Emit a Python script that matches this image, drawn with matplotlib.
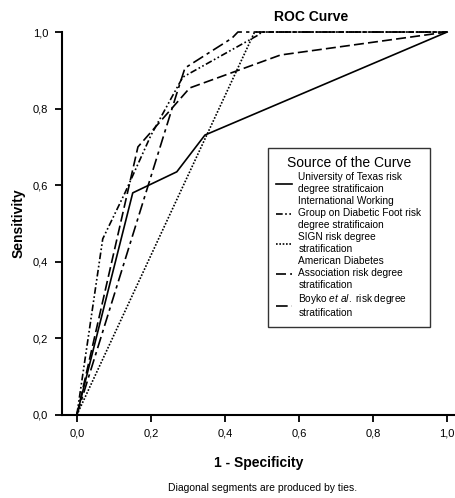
import matplotlib
matplotlib.use('Agg')
import matplotlib.pyplot as plt

plt.rcParams['font.family'] = ['Liberation Sans', 'DejaVu Sans']
plt.rcParams['mathtext.fontset'] = 'custom'
plt.rcParams['mathtext.it'] = 'Liberation Sans:italic'
plt.rcParams['mathtext.rm'] = 'Liberation Sans'

# ROC points (1 - specificity, sensitivity)
texas_x = [0.0, 0.151, 0.27, 0.346, 1.0]
texas_y = [0.0, 0.58, 0.635, 0.731, 1.0]

iwgdf_x = [0.0, 0.07, 0.13, 0.20, 0.286, 0.486, 0.50, 1.0]
iwgdf_y = [0.0, 0.46, 0.58, 0.73, 0.882, 0.99, 1.0, 1.0]

sign_x = [0.0, 0.48, 1.0]
sign_y = [0.0, 1.0, 1.0]

ada_x = [0.0, 0.165, 0.305, 0.55, 1.0]
ada_y = [0.0, 0.70, 0.854, 0.94, 1.0]

boyko_x = [0.0, 0.27, 0.292, 0.419, 0.435, 1.0]
boyko_y = [0.0, 0.84, 0.906, 0.984, 1.0, 1.0]

labels = ['University of Texas risk\ndegree stratificaion',
          'International Working\nGroup on Diabetic Foot risk\ndegree stratificaion',
          'SIGN risk degree\nstratification',
          'American Diabetes\nAssociation risk degree\nstratification',
          r'Boyko $\it{et\ al.}$ risk degree' + '\nstratification']

ticks = [0.0, 0.2, 0.4, 0.6, 0.8, 1.0]
tick_labels = ['0,0', '0,2', '0,4', '0,6', '0,8', '1,0']

fig = plt.figure(figsize=(4.56, 4.98), dpi=100)
ax = fig.add_axes([0.136, 0.1667, 0.864, 0.769])

lw = 1.2
ax.plot(texas_x, texas_y, color='black', lw=lw, ls='-', label=labels[0], clip_on=False)
ax.plot(iwgdf_x, iwgdf_y, color='black', lw=lw, ls=(0, (4, 1.5, 1, 1.5, 1, 1.5)), label=labels[1], clip_on=False)
ax.plot(sign_x, sign_y, color='black', lw=lw, ls=(0, (1, 1)), label=labels[2], clip_on=False)
ax.plot(ada_x, ada_y, color='black', lw=lw, ls=(0, (6, 2.5)), label=labels[3], clip_on=False)
ax.plot(boyko_x, boyko_y, color='black', lw=lw, ls=(0, (7, 2.5, 2, 2.5)), label=labels[4], clip_on=False)

ax.set_xlim(-0.04, 1.024)
ax.set_ylim(0, 1.0)
ax.set_xticks(ticks)
ax.set_xticklabels(tick_labels)
ax.set_yticks(ticks)
ax.set_yticklabels(tick_labels)
ax.tick_params(direction='out', length=5, width=1.3, labelsize=8, pad=5)

for s in ['top', 'right']:
    ax.spines[s].set_visible(False)
for s in ['left', 'bottom']:
    ax.spines[s].set_linewidth(1.5)

ax.set_xlabel('1 - Specificity', fontsize=10, fontweight='bold', labelpad=12)
ax.set_ylabel('Sensitivity', fontsize=10, fontweight='bold', labelpad=5)

fig.text(0.682, 0.965, 'ROC Curve', fontsize=10, fontweight='bold', ha='center', va='center')
fig.text(0.575, 0.02, 'Diagonal segments are produced by ties.', fontsize=7.5, ha='center', va='center')

leg = ax.legend(loc='upper left', bbox_to_anchor=(0.51, 0.71), title='Source of the Curve',
                fontsize=7.3, title_fontsize=10, frameon=True, fancybox=False,
                handlelength=1.6, handletextpad=0.6, labelspacing=0.2,
                borderpad=0.8, alignment='center')
for t in leg.get_texts():
    t.set_linespacing(1.25)
leg.get_frame().set_edgecolor('black')
leg.get_frame().set_linewidth(1.0)

fig.savefig('out.png', dpi=100)
